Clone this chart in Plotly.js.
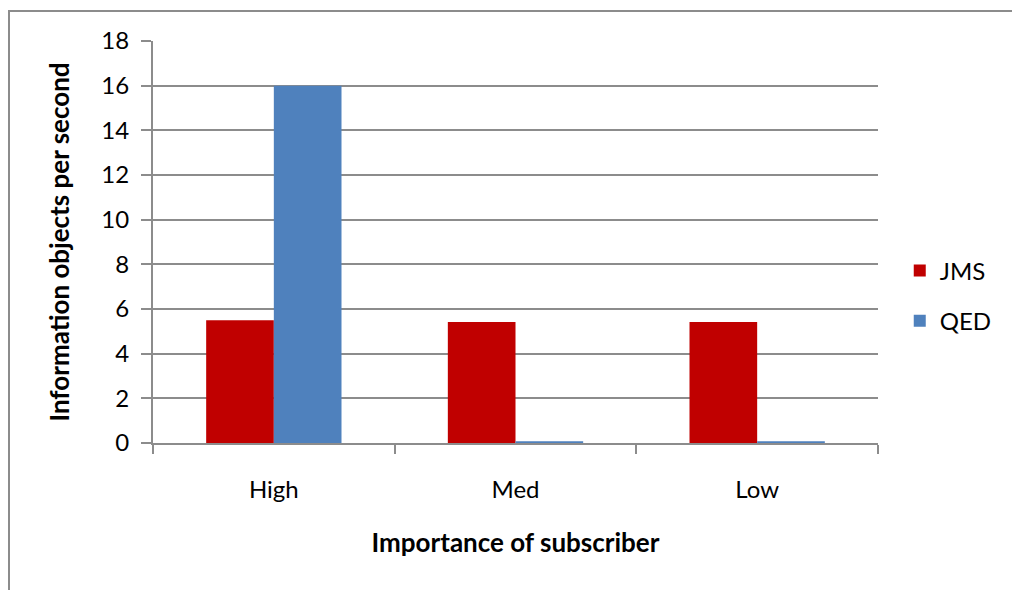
<!DOCTYPE html>
<html>
<head>
<meta charset="utf-8">
<script src="https://cdn.plot.ly/plotly-3.0.1.min.js"></script>
<style>
html,body{margin:0;padding:0;background:#fff;}
#wrap{position:relative;width:1012px;height:590px;}
#chart{position:absolute;left:0;top:0;width:1012px;height:590px;}
#frame{position:absolute;left:8px;top:10px;width:1100px;height:700px;border-left:2px solid #8c8c8c;border-top:2px solid #8c8c8c;pointer-events:none;}
</style>
</head>
<body>
<div id="wrap"><div id="chart"></div><div id="frame"></div></div>
<script>
const categories = ["High", "Med", "Low"];
const jmsValues = [5.5, 5.42, 5.42];
const qedValues = [16, 0.08, 0.08];
const yTicks = [0, 2, 4, 6, 8, 10, 12, 14, 16, 18];

const font = "Lato, 'Open Sans', sans-serif";

const traces = [
  {type: "bar", name: "JMS", legendgroup: "a", x: categories, y: jmsValues, marker: {color: "#c00000"}},
  {type: "bar", name: "QED", legendgroup: "b", x: categories, y: qedValues, marker: {color: "#4f81bd"}}
];

const layout = {
  width: 1012, height: 590,
  margin: {l: 153, r: 134, t: 41, b: 147},
  paper_bgcolor: "#fff", plot_bgcolor: "#fff",
  barmode: "group", bargap: 0.44, bargroupgap: 0,
  font: {family: font, color: "#000", size: 24},
  showlegend: true,
  legend: {x: 1.03, y: 0.366, xanchor: "left", yanchor: "middle", font: {size: 24, family: font}, tracegroupgap: 16, itemwidth: 30},
  xaxis: {
    type: "category",
    showline: true, linecolor: "#8c8c8c", linewidth: 2,
    ticks: "outside", tickson: "boundaries", ticklen: 9, tickcolor: "#8c8c8c", tickwidth: 2,
    ticklabelstandoff: 24,
    tickfont: {size: 24, family: font},
    title: {text: "<b>Importance of subscriber</b>", font: {size: 26, family: font}, standoff: 32},
    showgrid: false, zeroline: false
  },
  yaxis: {
    range: [0, 18], tickvals: yTicks,
    showline: true, linecolor: "#8c8c8c", linewidth: 2,
    ticks: "outside", ticklen: 10, tickcolor: "#8c8c8c", tickwidth: 2,
    showgrid: true, gridcolor: "#8c8c8c", gridwidth: 2,
    zeroline: false,
    tickfont: {size: 24, family: font},
    ticklabelstandoff: 7,
    title: {text: "<b>Information objects per second</b>", font: {size: 26, family: font}, standoff: 24}
  }
};

Plotly.newPlot("chart", traces, layout, {displayModeBar: false, staticPlot: true});
</script>
</body>
</html>
